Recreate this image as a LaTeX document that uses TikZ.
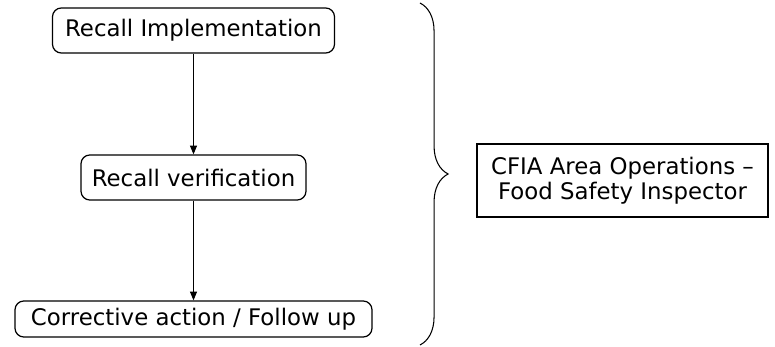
\documentclass[tikz,border=0pt]{standalone}
\usepackage{fontspec}
\setmainfont{DejaVu Sans}
\usetikzlibrary{arrows.meta, positioning, decorations.pathreplacing}

\begin{document}
\begin{tikzpicture}[
		flowbox/.style={draw, line width=0.7pt, rounded corners=5pt, inner sep=0pt,
			font=\fontsize{13}{15}\selectfont},
		rolebox/.style={draw, line width=0.7pt, inner sep=0pt, align=center,
			font=\fontsize{13}{14.5}\selectfont},
		flowarrow/.style={line width=0.5pt, -{Triangle[length=5pt, width=4pt]}}
	]
				\useasboundingbox (0,0) rectangle (15.5, 6.94);
				% Recall steps, top to bottom
				\node[flowbox, minimum width=5.64cm, minimum height=0.9cm] (implement) at (3.87, 6.33)
				{Recall Implementation};
				\node[flowbox, minimum width=4.5cm, minimum height=0.9cm] (verify) at (3.87, 3.39)
				{Recall verification};
				\node[flowbox, minimum width=7.14cm, minimum height=0.72cm] (followup) at (3.87, 0.56)
				{Corrective action / Follow up};
				% arrows between the steps
				\draw[flowarrow] (implement) -- (verify);
				\draw[flowarrow] (verify) -- (followup);
				% brace grouping all three steps
				\coordinate (bracetop) at (8.4, 6.88);
				\coordinate (bracebot) at (8.4, 0.04);
				\draw[decorate, decoration={brace, amplitude=16pt}, line width=0.6pt]
				(bracetop) -- (bracebot);
				% responsible role
				\node[rolebox, minimum width=5.82cm, minimum height=1.46cm] (inspector) at (12.45, 3.33)
				{CFIA Area Operations --\\Food Safety Inspector};
			\end{tikzpicture}
\end{document}
